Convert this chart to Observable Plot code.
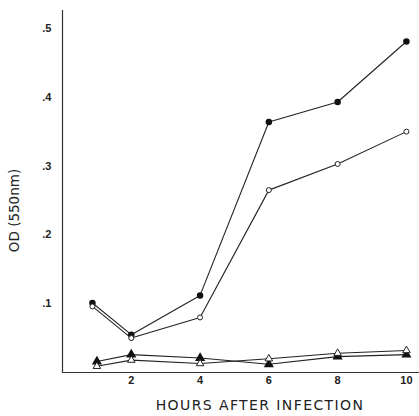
<!DOCTYPE html>
<html>
<head>
<meta charset="utf-8">
<script src="https://cdn.jsdelivr.net/npm/d3@7"></script>
<script src="https://cdn.jsdelivr.net/npm/@observablehq/plot@0.6"></script>
<style>
  html, body { margin: 0; padding: 0; background: #fff; }
  #chart svg { background: #fff; }
  .ticklab text { font-family: "Liberation Sans", Arial, sans-serif; font-weight: bold; }
</style>
</head>
<body>
<div id="chart"></div>
<script>
// Data
const circleHours = [0.87, 2, 4, 6, 8, 10];
const filledCircle = [0.101, 0.055, 0.112, 0.364, 0.393, 0.481];
const openCircle = [0.096, 0.050, 0.080, 0.265, 0.303, 0.350];

const triangleHours = [1, 2, 4, 6, 8, 10];
const filledTriangle = [0.016, 0.026, 0.021, 0.012, 0.023, 0.026];
const openTriangle = [0.009, 0.018, 0.013, 0.020, 0.028, 0.032];

const xTicks = [2, 4, 6, 8, 10];
const yTicks = [0.1, 0.2, 0.3, 0.4, 0.5];
const yTickLabels = [".1", ".2", ".3", ".4", ".5"];
const xTitle = "HOURS AFTER INFECTION";
const yTitle = "OD (550nm)";

const toRows = (hours, values) => hours.map((h, i) => ({h, v: values[i]}));
const fc = toRows(circleHours, filledCircle);
const oc = toRows(circleHours, openCircle);
const ft = toRows(triangleHours, filledTriangle);
const ot = toRows(triangleHours, openTriangle);

const titleFont = {fontFamily: "'DejaVu Sans', sans-serif", fontSize: 13.5};

const chart = Plot.plot({
  width: 419,
  height: 416,
  marginLeft: 62,
  marginRight: 0,
  marginTop: 10,
  marginBottom: 44,
  style: {background: "#fff", color: "#222"},
  x: {domain: [0, 10.38]},
  y: {domain: [0, 0.526]},
  marks: [
    Plot.ruleX([0], {stroke: "#333", strokeWidth: 1.2}),
    Plot.ruleY([0], {stroke: "#333", strokeWidth: 1.2}),
    Plot.axisX({ticks: xTicks, tickSize: 0, tickPadding: 4, label: null, fontSize: 11, className: "ticklab", fill: "#222"}),
    Plot.axisY({ticks: yTicks, tickSize: 0, tickPadding: 11, label: null, fontSize: 11, className: "ticklab", fill: "#222",
      tickFormat: d => yTickLabels[yTicks.findIndex(t => Math.abs(t - d) < 1e-9)]}),
    Plot.line(fc, {x: "h", y: "v", stroke: "#222", strokeWidth: 1.1}),
    Plot.line(oc, {x: "h", y: "v", stroke: "#222", strokeWidth: 1.1}),
    Plot.line(ft, {x: "h", y: "v", stroke: "#222", strokeWidth: 1.1}),
    Plot.line(ot, {x: "h", y: "v", stroke: "#222", strokeWidth: 1.1}),
    Plot.dot(fc, {x: "h", y: "v", r: 2.5, fill: "#111", stroke: "#111"}),
    Plot.dot(oc, {x: "h", y: "v", r: 2.5, fill: "#fff", stroke: "#222", strokeWidth: 1}),
    Plot.dot(ft, {x: "h", y: "v", symbol: "triangle", r: 2.8, fill: "#111", stroke: "#111"}),
    Plot.dot(ot, {x: "h", y: "v", symbol: "triangle", r: 2.8, fill: "#fff", stroke: "#222", strokeWidth: 1}),
    Plot.text([xTitle], {frameAnchor: "bottom", dx: 19, dy: 33, text: d => d, fill: "#222", ...titleFont, fontSize: 14, lineAnchor: "middle", textAnchor: "middle"}),
    Plot.text([yTitle], {frameAnchor: "left", dx: -48, dy: 19, rotate: -90, text: d => d, fill: "#222", ...titleFont, lineAnchor: "middle", textAnchor: "middle"})
  ]
});
chart.querySelectorAll("text").forEach(t => {
  if (t.textContent === xTitle) t.setAttribute("letter-spacing", "1.4");
});
document.getElementById("chart").appendChild(chart);
</script>
</body>
</html>
